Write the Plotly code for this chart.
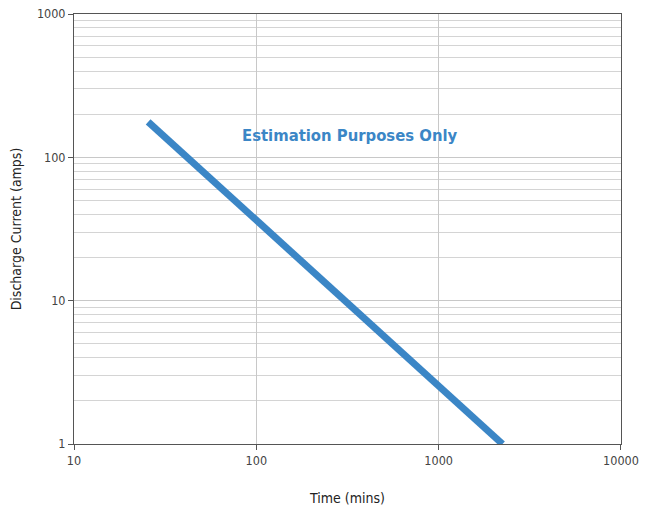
import plotly.graph_objects as go

time_mins = [25.5, 2240]
current_amps = [177, 1.0]
x_ticks = [10, 100, 1000, 10000]
y_ticks = [1, 10, 100, 1000]

font_family = "DejaVu Sans Condensed, Liberation Sans Narrow, sans-serif"

fig = go.Figure()
fig.add_trace(go.Scatter(
    x=time_mins, y=current_amps, mode="lines",
    line=dict(color="#3b86c6", width=7),
    showlegend=False, hoverinfo="skip",
))

fig.add_annotation(
    x=0.505, y=0.7186, xref="paper", yref="paper",
    xanchor="center", yanchor="middle",
    text="<b>Estimation Purposes Only</b>", showarrow=False,
    font=dict(family=font_family, size=16.5, color="#3b86c6"),
)

fig.update_xaxes(
    type="log", range=[0.9999, 4.0001],
    tickvals=x_ticks, ticktext=[str(v) for v in x_ticks],
    showgrid=True, gridcolor="#c8c8c8", gridwidth=1,
    showline=True, linecolor="#555555", linewidth=1, mirror=True,
    ticks="outside", ticklen=5, tickcolor="#555555",
    tickfont=dict(family=font_family, size=12.5, color="#444444"),
    ticklabeloverflow="allow",
    title=dict(text="Time (mins)", font=dict(family=font_family, size=14, color="#222222"), standoff=27),
    zeroline=False, automargin=False,
)
fig.update_yaxes(
    type="log", range=[0, 3],
    tickvals=y_ticks, ticktext=[str(v) for v in y_ticks],
    showgrid=True, gridcolor="#c8c8c8", gridwidth=1,
    minor=dict(showgrid=True, gridcolor="#d4d4d4", gridwidth=1, dtick="D1", ticks=""),
    showline=True, linecolor="#555555", linewidth=1, mirror=True,
    ticks="outside", ticklen=5, tickcolor="#555555",
    tickfont=dict(family=font_family, size=12.5, color="#444444"),
    ticklabeloverflow="allow",
    title=dict(text="Discharge Current (amps)", font=dict(family=font_family, size=14, color="#222222"), standoff=17),
    zeroline=False, automargin=False,
)

# page body has an 8px margin, so the figure is offset by 8px; size it so it
# ends at the window's edges and keeps the last tick label inside the view
fig.update_layout(
    width=639, height=498,
    margin=dict(l=66, r=26, t=6, b=62),
    plot_bgcolor="white", paper_bgcolor="white",
)

fig.write_html("out.html")
